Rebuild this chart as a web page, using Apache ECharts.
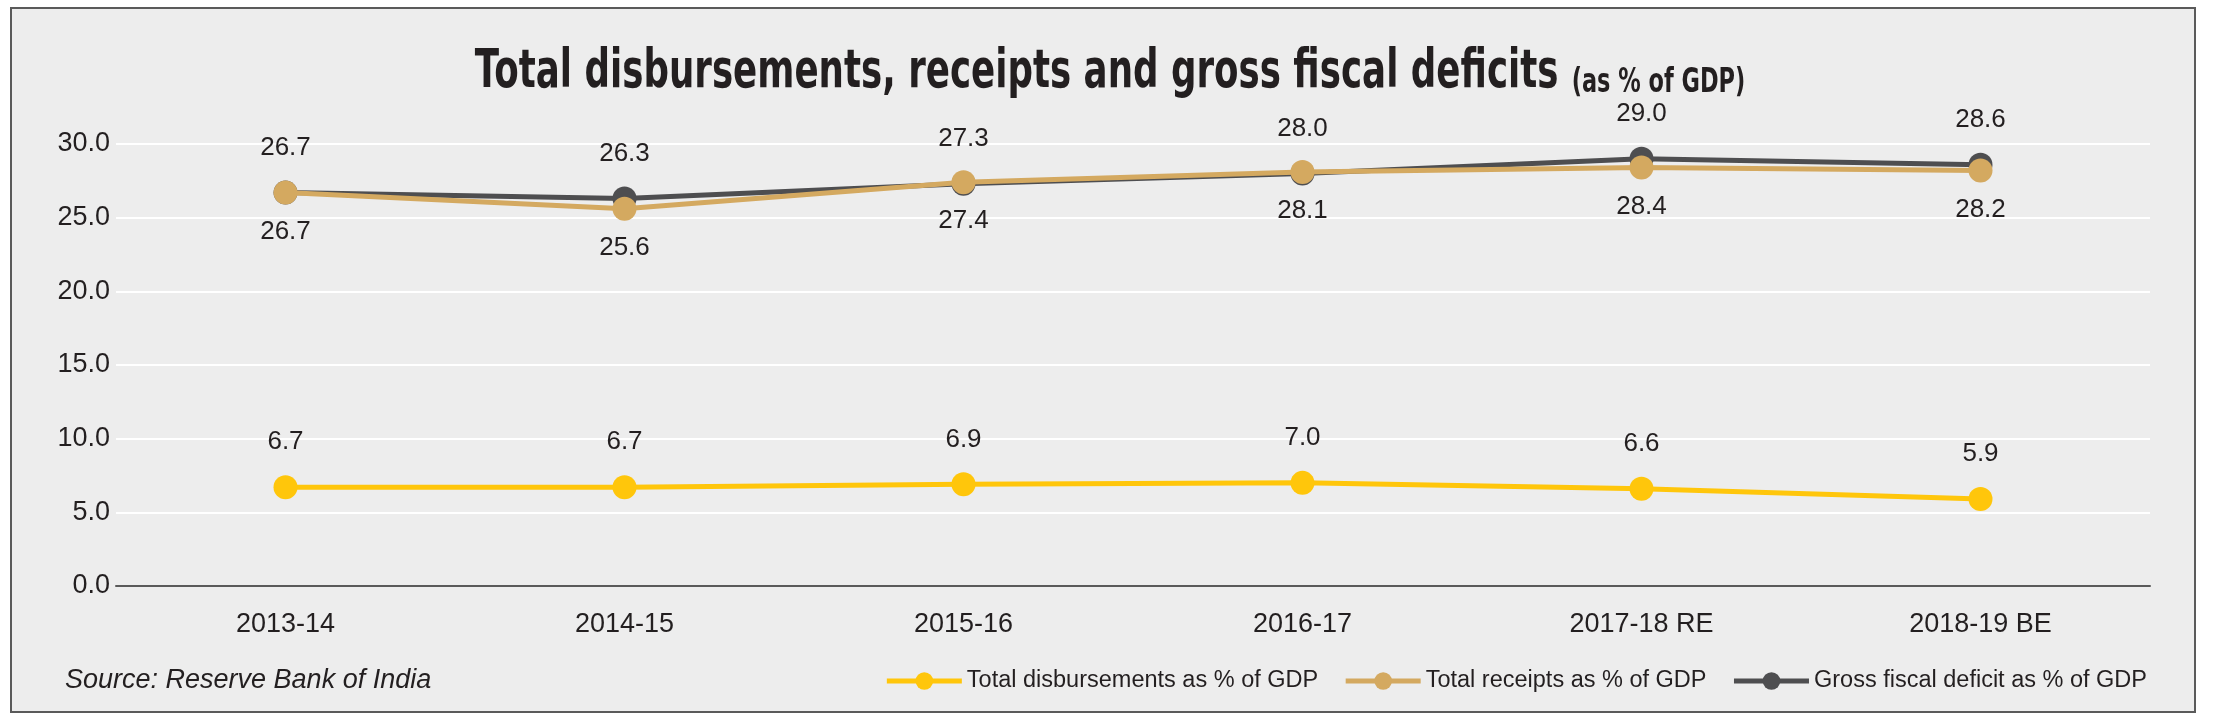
<!DOCTYPE html>
<html>
<head>
<meta charset="utf-8">
<title>Total disbursements, receipts and gross fiscal deficits</title>
<script src="https://cdn.jsdelivr.net/npm/echarts@6/dist/echarts.min.js"></script>
<style>
  html, body { margin: 0; padding: 0; background: #fff; }
  #frame {
    position: absolute; left: 10px; top: 7px; width: 2186px; height: 706px;
    box-sizing: border-box; border: 2px solid #5a5a5a; background: #ededed;
  }
  #chart { position: absolute; left: 0; top: 0; width: 2216px; height: 721px; }
</style>
</head>
<body>
<div id="frame"></div>
<div id="chart"></div>
<script>
// years on the x axis
const years = ['2013-14', '2014-15', '2015-16', '2016-17', '2017-18 RE', '2018-19 BE'];

// values (% of GDP)
const disbursements = [6.7, 6.7, 6.9, 7.0, 6.6, 5.9];
const receipts = [26.7, 25.6, 27.4, 28.1, 28.4, 28.2];
const fiscalDeficit = [26.7, 26.3, 27.3, 28.0, 29.0, 28.6];

const seriesNames = [
  'Total disbursements as % of GDP',
  'Total receipts as % of GDP',
  'Gross fiscal deficit as % of GDP'
];

const yTicks = { min: 0, max: 30, interval: 5 };

const textColor = '#231f20';
const colors = ['#ffc60b', '#d4a960', '#4e4e50'];

const chart = echarts.init(document.getElementById('chart'));

function lineSeries(name, data, color, labelPos, labelDist, z) {
  return {
    name: name,
    type: 'line',
    data: data,
    z: z,
    symbol: 'circle',
    symbolSize: 24,
    lineStyle: { color: color, width: 5 },
    itemStyle: { color: color },
    label: {
      show: true,
      position: labelPos,
      distance: labelDist,
      color: textColor,
      fontFamily: 'Liberation Sans',
      fontSize: 26,
      formatter: p => p.value.toFixed(1)
    },
    emphasis: { disabled: true },
    animation: false
  };
}

const option = {
  backgroundColor: 'transparent',
  // heavy condensed title: bold face squeezed horizontally
  graphic: [
    {
      type: 'text',
      x: 1110,
      y: 100,
      scaleX: 0.66,
      silent: true,
      style: {
        text: '{a|Total disbursements, receipts and gross fiscal deficits}{b|(as % of GDP)}',
        align: 'center',
        verticalAlign: 'bottom',
        rich: {
          a: {
            fontFamily: 'DejaVu Sans',
            fontWeight: 'bold',
            fontSize: 54,
            fill: textColor,
            verticalAlign: 'bottom'
          },
          b: {
            fontFamily: 'DejaVu Sans',
            fontWeight: 'bold',
            fontSize: 34,
            fill: textColor,
            verticalAlign: 'bottom',
            padding: [0, 0, 0, 20]
          }
        }
      }
    }
  ],
  title: {
    text: 'Source: Reserve Bank of India',
    left: 60,
    top: 662,
    textStyle: {
      fontFamily: 'Liberation Sans',
      fontStyle: 'italic',
      fontWeight: 'normal',
      fontSize: 27,
      color: textColor
    }
  },
  legend: {
    data: seriesNames,
    right: 64,
    top: 664,
    itemWidth: 75,
    itemHeight: 22,
    itemGap: 25,
    lineStyle: { width: 5 },
    textStyle: {
      fontFamily: 'Liberation Sans',
      fontSize: 23.5,
      color: textColor
    }
  },
  grid: {
    left: 116,
    right: 66,
    top: 144,
    bottom: 135,
    containLabel: false
  },
  xAxis: {
    type: 'category',
    data: years,
    boundaryGap: true,
    axisLine: { lineStyle: { color: '#5a5a5a', width: 2 } },
    axisTick: { length: 6, lineStyle: { color: '#5a5a5a', width: 1 } },
    axisLabel: {
      margin: 25,
      color: textColor,
      fontFamily: 'Liberation Sans',
      fontSize: 27
    }
  },
  yAxis: {
    type: 'value',
    min: yTicks.min,
    max: yTicks.max,
    interval: yTicks.interval,
    axisLine: { show: false },
    axisTick: { show: false },
    splitLine: { lineStyle: { color: '#ffffff', width: 2 } },
    axisLabel: {
      margin: 6,
      color: textColor,
      fontFamily: 'Liberation Sans',
      fontSize: 27,
      formatter: v => v.toFixed(1)
    }
  },
  series: [
    lineSeries(seriesNames[0], disbursements, colors[0], 'top', 20, 2),
    lineSeries(seriesNames[1], receipts, colors[1], 'bottom', 14, 4),
    lineSeries(seriesNames[2], fiscalDeficit, colors[2], 'top', 20, 3)
  ]
};

chart.setOption(option);
</script>
</body>
</html>
